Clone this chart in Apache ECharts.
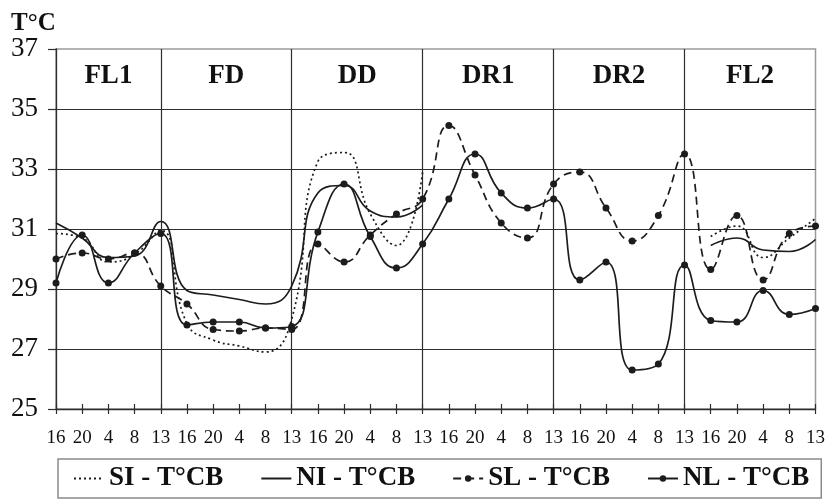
<!DOCTYPE html>
<html>
<head>
<meta charset="utf-8">
<script src="https://cdn.jsdelivr.net/npm/echarts@6/dist/echarts.min.js"></script>
<style>
  html, body { margin: 0; padding: 0; background: #fff; }
  #chart { width: 828px; height: 499px; }
</style>
</head>
<body>
<div id="chart"></div>
<script>
// Sampling hours, repeated for each of the six phases
const hours = ['16', '20', '4', '8', '13'];
const categories = [].concat(hours, hours, hours, hours, hours, hours);

// Phase names and the category index range each one spans
const phases = ['FL1', 'FD', 'DD', 'DR1', 'DR2', 'FL2'];
const phaseStart = [0, 4, 9, 14, 19, 24];
const phaseEnd = [4, 9, 14, 19, 24, 29];

// Temperature readings (°C); null where a series was not recorded
const siValues = [30.85, 30.7, 29.9, 30.15, 30.95, 27.85, 27.3, 27.1, 26.9, 28.0,
  33.25, 33.55, 31.5, 30.45, 32.9, null, null, null, null, null,
  null, null, null, null, null, 30.75, 31.1, 30.05, 30.7, 31.35];
const niValues = [31.2, 30.7, 30.05, 30.1, 31.25, 28.95, 28.8, 28.65, 28.5, 29.1,
  32.2, 32.45, 31.6, 31.4, 31.8, null, null, null, null, null,
  null, null, null, null, null, 30.45, 30.7, 30.3, 30.25, 30.65];
const slValues = [30.0, 30.2, 30.0, 30.2, 29.1, 28.5, 27.65, 27.6, 27.7, 27.65,
  30.5, 29.9, 30.8, 31.5, 32.0, 34.45, 32.8, 31.2, 30.7, 32.5,
  32.9, 31.7, 30.6, 31.45, 33.5, 29.65, 31.45, 29.3, 30.85, 31.1];
const nlValues = [29.2, 30.8, 29.2, 30.2, 30.85, 27.8, 27.9, 27.9, 27.7, 27.75,
  30.9, 32.5, 30.75, 29.7, 30.5, 32.0, 33.5, 32.2, 31.7, 32.0,
  29.3, 29.9, 26.3, 26.5, 29.8, 27.95, 27.9, 28.95, 28.15, 28.35];

const seriesNames = ['SI - T°CB', 'NI - T°CB', 'SL - T°CB', 'NL - T°CB'];

const serif = 'Liberation Serif, Times New Roman, serif';
const ink = '#1c1c1c';
const gridInk = '#2e2e2e';

const chart = echarts.init(document.getElementById('chart'), null, { renderer: 'canvas' });

const phaseAreas = phases.map((name, i) => [
  { name: name, xAxis: phaseStart[i], yAxis: 37 },
  { xAxis: phaseEnd[i], yAxis: 25 }
]);

function lineSeries(name, values, dash, withMarkers) {
  return {
    name: name,
    type: 'line',
    data: values,
    xAxisIndex: 0,
    yAxisIndex: 0,
    smooth: true,
    connectNulls: false,
    symbol: withMarkers ? 'circle' : 'none',
    symbolSize: 7,
    showSymbol: withMarkers,
    itemStyle: { color: ink },
    lineStyle: { color: ink, width: 1.7, type: dash },
    emphasis: { disabled: true },
    z: 3
  };
}

const series = [
  lineSeries(seriesNames[0], siValues, [2, 3], false),
  lineSeries(seriesNames[1], niValues, 'solid', false),
  lineSeries(seriesNames[2], slValues, [8, 5], true),
  lineSeries(seriesNames[3], nlValues, 'solid', true)
];

// Phase headings sit at the top of each phase band
series[3].markArea = {
  silent: true,
  itemStyle: { color: 'rgba(0,0,0,0)' },
  label: {
    show: true,
    position: 'insideTop',
    distance: 14,
    formatter: '{b}',
    fontFamily: serif,
    fontWeight: 'bold',
    fontSize: 27,
    color: '#111'
  },
  data: phaseAreas
};

const boundaryIdx = phaseEnd.slice(0, 5);

const option = {
  animation: false,
  backgroundColor: '#fff',
  title: {
    text: 'T°C',
    left: 6,
    top: 6,
    textStyle: { fontFamily: serif, fontWeight: 'bold', fontSize: 25, color: '#111' }
  },
  grid: {
    left: 56, right: 11, top: 49, bottom: 90,
    show: true,
    borderColor: '#9a9a9a',
    borderWidth: 1.5,
    backgroundColor: 'transparent'
  },
  legend: {
    data: [
      { name: seriesNames[0], itemStyle: { opacity: 0 } },
      { name: seriesNames[1], itemStyle: { opacity: 0 } },
      { name: seriesNames[2] },
      { name: seriesNames[3] }
    ],
    left: 58,
    top: 459,
    padding: [6, 12, 6, 15],
    borderColor: '#8a8a8a',
    borderWidth: 1.5,
    itemGap: 37,
    itemWidth: 30,
    itemHeight: 8,
    selectedMode: false,
    textStyle: { fontFamily: serif, fontWeight: 'bold', fontSize: 27, color: '#111' }
  },
  xAxis: [
    {
      type: 'category',
      data: categories,
      boundaryGap: false,
      axisLine: { show: true, lineStyle: { color: gridInk, width: 1.3 } },
      axisTick: { show: true, interval: 0, length: 5, lineStyle: { color: gridInk, width: 1.2 } },
      axisLabel: { interval: 0, margin: 20, fontFamily: serif, fontSize: 19, color: '#111' },
      splitLine: {
        show: true,
        interval: function (index) { return boundaryIdx.indexOf(index) >= 0; },
        lineStyle: { color: gridInk, width: 1.2 }
      }
    },
    {
      type: 'category',
      data: categories,
      boundaryGap: false,
      position: 'bottom',
      axisLine: { show: false },
      axisTick: { show: true, inside: true, interval: 0, length: 5, lineStyle: { color: gridInk, width: 1.2 } },
      axisLabel: { show: false },
      splitLine: { show: false }
    }
  ],
  yAxis: {
    type: 'value',
    min: 25,
    max: 37,
    interval: 2,
    axisLine: { show: true, lineStyle: { color: gridInk, width: 1.3 } },
    axisTick: { show: true, length: 8, lineStyle: { color: gridInk, width: 1.2 } },
    axisLabel: { margin: 18, fontFamily: serif, fontSize: 27, color: '#111' },
    splitLine: { show: true, showMaxLine: false, lineStyle: { color: gridInk, width: 1.2 } }
  },
  series: series
};

chart.setOption(option);
</script>
</body>
</html>
